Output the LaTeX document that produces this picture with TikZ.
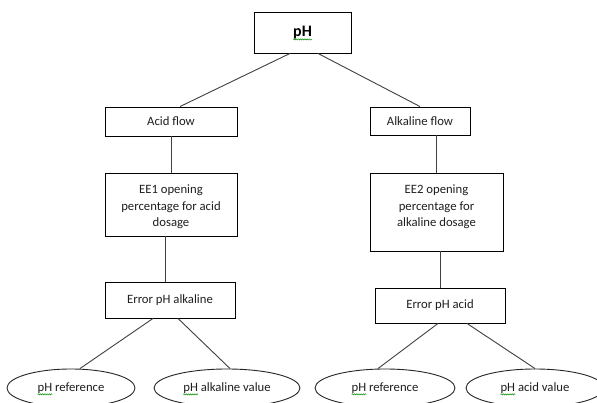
\documentclass[tikz,border=0pt]{standalone}
\usepackage{fontspec}
\setmainfont{Carlito}
\usetikzlibrary{shapes.geometric,decorations.pathmorphing}
\newcommand\squig[1]{\tikz[baseline=(sq.base)]{\node[shape=rectangle,draw=none,fill=none,minimum width=0pt,minimum height=0pt,inner sep=0pt,outer sep=0pt](sq){#1};\draw[overlay,green!55!black,line width=0.5pt,decorate,decoration={snake,amplitude=0.6pt,segment length=2.2pt}]([yshift=-3pt]sq.base west)--([yshift=-3pt]sq.base east);}}
\tikzset{
  box/.style={draw=black, line width=0.9pt, rectangle, inner sep=0pt, fill=white},
  conn/.style={draw=black!75, line width=0.9pt},
  oval/.style={ellipse, draw=black!85, line width=0.9pt, inner sep=0pt, fill=white},
  txt/.style={font=\fontsize{12.7}{16.5}\selectfont, text=black!88, align=center, inner sep=0pt}
}
\begin{document}
\begin{tikzpicture}[x=1pt,y=-1pt]
\useasboundingbox (0,0) rectangle (597,403);
\fill[white] (0,0) rectangle (597,403);
\clip (0,0) rectangle (597,403);
\node[box, minimum width=97pt, minimum height=41pt, font=\fontsize{16}{19}\selectfont\bfseries] (ph) at (302.5,32.5) {\squig{pH}};
\node[box, txt, minimum width=132pt, minimum height=29pt] (acid) at (171,121.5) {Acid flow};
\node[box, txt, minimum width=100pt, minimum height=28pt] (alk) at (420,121) {Alkaline flow};
\node[box, minimum width=132pt, minimum height=63pt] (ee1) at (171,204.5) {};
\node[txt] (ee1t) at (171,207) {EE1 opening\\percentage for acid\\dosage};
\node[box, minimum width=133pt, minimum height=78pt] (ee2) at (436.5,212) {};
\node[txt] (ee2t) at (436.5,207) {EE2 opening\\percentage for\\alkaline dosage};
\node[box, txt, minimum width=130pt, minimum height=36pt] (err1) at (170,300) {Error pH alkaline};
\node[box, txt, minimum width=130pt, minimum height=35pt] (err2) at (440,305.5) {Error pH acid};
\node[oval, txt, minimum width=128pt, minimum height=38pt] (e1) at (71,388) {\squig{pH} reference};
\node[oval, txt, minimum width=146pt, minimum height=38pt] (e2) at (227,388) {\squig{pH} alkaline value};
\node[oval, txt, minimum width=140pt, minimum height=38pt] (e3) at (385,388) {\squig{pH} reference};
\node[oval, txt, minimum width=138pt, minimum height=38pt] (e4) at (535,388) {\squig{pH} acid value};
\draw[conn] ([xshift=-12.5pt]ph.south) -- ([xshift=9pt]acid.north);
\draw[conn] ([xshift=15.5pt]ph.south) -- (alk.north);
\draw[conn] (acid.south) -- (ee1.north);
\draw[conn] ([xshift=-6pt]ee1.south) -- ([xshift=-5pt]err1.north);
\draw[conn] (ee2.north) -- (ee2.north |- alk.south);
\draw[conn] (err2.north) -- (err2.north |- ee2.south);
\draw[conn] ([xshift=-17pt]err1.south) -- ([xshift=9pt]e1.north);
\draw[conn] ([xshift=8pt]err1.south) -- ([xshift=3pt]e2.north);
\draw[conn] ([xshift=-2pt]err2.south) -- ([xshift=-7pt]e3.north);
\draw[conn] ([xshift=27pt]err2.south) -- (e4.north);
\end{tikzpicture}
\end{document}
